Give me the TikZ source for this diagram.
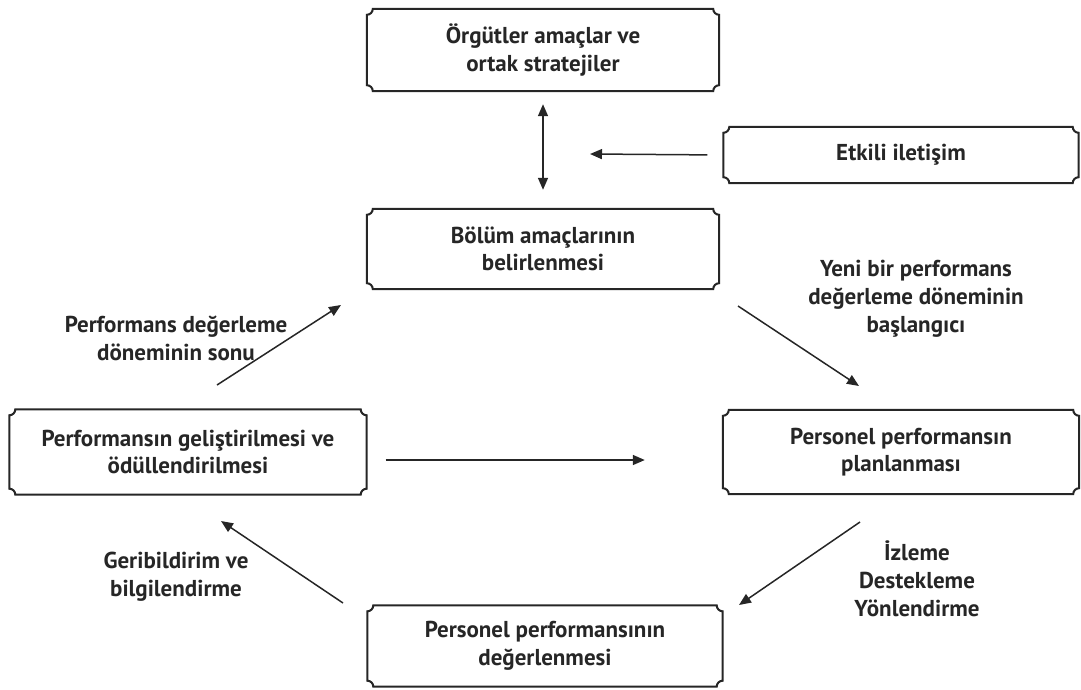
\documentclass[tikz,border=0pt]{standalone}
\usepackage{fontspec}
\setmainfont{PT Sans}
\usepackage{xcolor}
\usepackage{tikz}
\usetikzlibrary{arrows.meta, calc}

\definecolor{ink}{HTML}{262626}

\begin{document}
\begin{tikzpicture}[
    x=1pt, y=-1pt,
    box/.style={minimum width=352pt, minimum height=82pt, align=center, inner sep=0pt,
        font=\bfseries\fontsize{23}{27.5}\selectfont, text=ink},
    lbl/.style={align=center, inner sep=0pt, font=\bfseries\fontsize{23}{28}\selectfont, text=ink},
    edge/.style={-{Triangle[length=12pt, width=10pt]}, line width=1.5pt, color=ink}
]
\useasboundingbox (0,0) rectangle (1081,689);
\node[box] (orgut) at (543,50) {Örgütler amaçlar ve\\ortak stratejiler};
\node[box, minimum width=355pt, minimum height=56pt] (iletisim) at (901,155) {Etkili iletişim};
\node[box, minimum height=80pt] (bolum) at (543,249) {Bölüm amaçlarının\\belirlenmesi};
\node[box, minimum width=357pt, minimum height=85pt] (gelisim) at (188,452) {Performansın geliştirilmesi ve\\ödüllendirilmesi};
\node[box, minimum width=356pt, minimum height=84pt] (plan) at (901,452) {Personel performansın\\planlanması};
\node[box, minimum width=355pt, minimum height=81pt] (deger) at (545,646) {Personel performansının\\değerlenmesi};
% boxes with notched corners
\foreach \n in {orgut, iletisim, bolum, gelisim, plan, deger} {
  \draw[line width=2pt, color=ink]
    ($(\n.north west)+(6,0)$) -- ($(\n.north east)+(-6,0)$)
    arc[start angle=180, end angle=270, radius=6pt] -- ($(\n.south east)+(0,-6)$)
    arc[start angle=90, end angle=180, radius=6pt] -- ($(\n.south west)+(6,0)$)
    arc[start angle=0, end angle=90, radius=6pt] -- ($(\n.north west)+(0,6)$)
    arc[start angle=270, end angle=360, radius=6pt] -- cycle;
}
\coordinate (ilt) at (590,154);
\coordinate (sonA) at (217,385);
\coordinate (sonB) at (341,305);
\coordinate (yeniA) at (738,306);
\coordinate (yeniB) at (859,386);
\coordinate (izlA) at (860,522);
\coordinate (izlB) at (739,605);
\coordinate (geriA) at (343,603);
\coordinate (geriB) at (221,521);
\draw[edge, {Triangle[length=12pt, width=10pt]}-{Triangle[length=12pt, width=10pt]}, shorten <=13pt, shorten >=19pt] (orgut) -- (bolum);
\draw[edge, shorten <=16pt] (iletisim.west) -- (ilt);
\draw[edge] (sonA) -- (sonB);
\draw[edge] (yeniA) -- (yeniB);
\draw[edge, shorten <=19pt, shorten >=78pt] ([yshift=-8pt]gelisim.east) -- ([yshift=-8pt]plan.west);
\draw[edge] (izlA) -- (izlB);
\draw[edge] (geriA) -- (geriB);
\node[lbl] (sonu) at (176,338) {Performans değerleme\\döneminin sonu};
\node[lbl] (baslangic) at (916,299) {Yeni bir performans\\değerleme döneminin\\başlangıcı};
\node[lbl] (izleme) at (917,579) {İzleme\\Destekleme\\Yönlendirme};
\node[lbl] (geri) at (176,577) {Geribildirim ve\\bilgilendirme};
\end{tikzpicture}
\end{document}
